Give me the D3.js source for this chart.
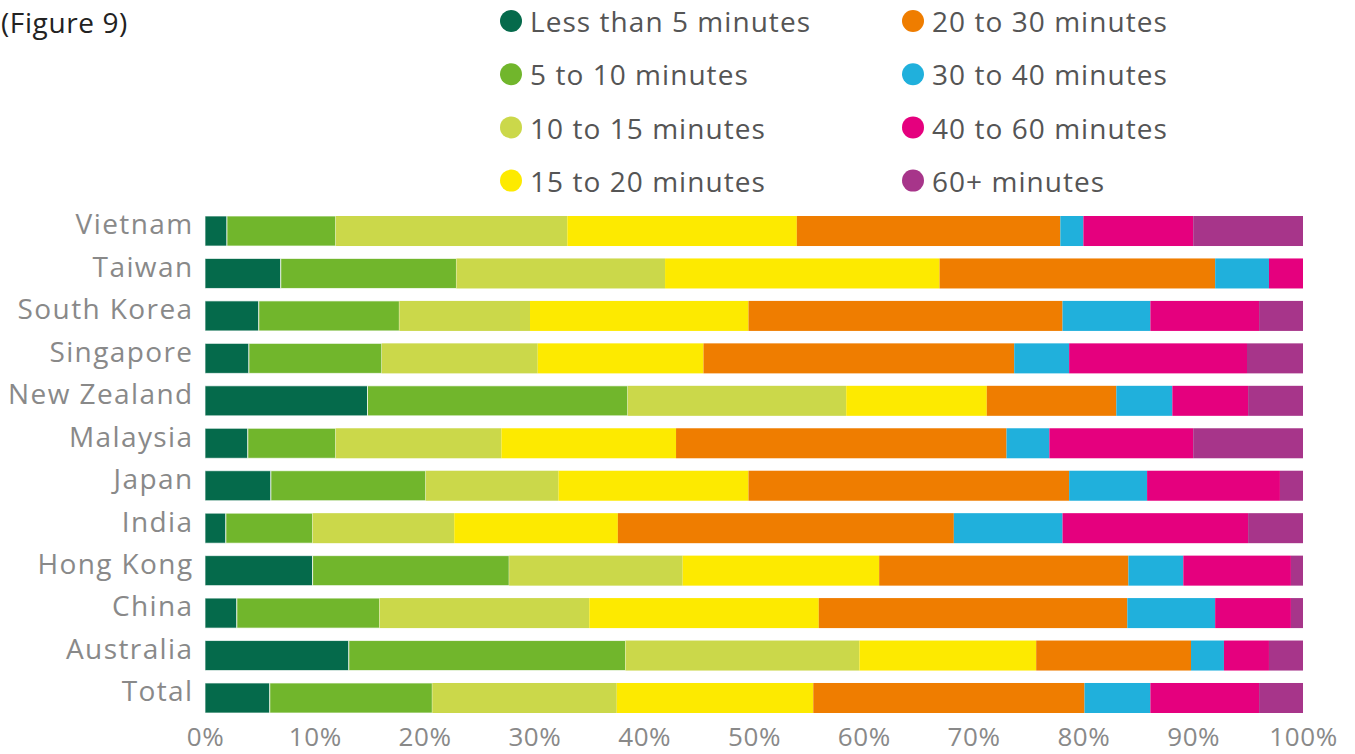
<!DOCTYPE html>
<html>
<head>
<meta charset="utf-8">
<script src="https://cdn.jsdelivr.net/npm/d3@7"></script>
<style>
  html, body { margin: 0; padding: 0; background: #fff; }
  svg { display: block; }
  text { font-family: "Open Sans", Lato, sans-serif; }
</style>
</head>
<body>
<svg id="chart" width="1355" height="754"></svg>
<script>
// Commute time shares by market (percent of respondents)
const countries = ["Vietnam", "Taiwan", "South Korea", "Singapore", "New Zealand",
  "Malaysia", "Japan", "India", "Hong Kong", "China", "Australia", "Total"];

const seriesNames = ["Less than 5 minutes", "5 to 10 minutes", "10 to 15 minutes",
  "15 to 20 minutes", "20 to 30 minutes", "30 to 40 minutes",
  "40 to 60 minutes", "60+ minutes"];

const seriesColors = ["#056a4b", "#71b62c", "#cbd84a", "#fdea00",
  "#ef7d00", "#20b0dc", "#e5007e", "#a7358a"];

// One array per band, in the order of countries
const lessThan5 = [2.0, 6.9, 4.9, 4.0, 14.8, 3.9, 6.0, 1.9, 9.8, 2.9, 13.1, 5.9];
const min5to10  = [9.9, 16.0, 12.8, 12.1, 23.7, 8.0, 14.1, 7.9, 17.9, 13.0, 25.2, 14.8];
const min10to15 = [21.1, 19.0, 11.9, 14.2, 19.9, 15.1, 12.1, 12.9, 15.8, 19.1, 21.3, 16.8];
const min15to20 = [20.9, 25.0, 19.9, 15.1, 12.8, 15.9, 17.3, 14.9, 17.9, 20.9, 16.1, 17.9];
const min20to30 = [24.0, 25.1, 28.6, 28.3, 11.8, 30.1, 29.2, 30.6, 22.7, 28.1, 14.1, 24.7];
const min30to40 = [2.1, 4.9, 8.0, 5.0, 5.1, 3.9, 7.1, 9.9, 5.0, 8.0, 3.0, 6.0];
const min40to60 = [10.0, 3.1, 9.9, 16.2, 6.9, 13.1, 12.1, 16.9, 9.8, 6.9, 4.1, 9.9];
const min60plus = [10.0, 0.0, 4.0, 5.1, 5.0, 10.0, 2.1, 5.0, 1.1, 1.1, 3.1, 4.0];

const tickValues = [0, 10, 20, 30, 40, 50, 60, 70, 80, 90, 100];

const seriesValues = [lessThan5, min5to10, min10to15, min15to20,
  min20to30, min30to40, min40to60, min60plus];

// Build rows for d3.stack
const rows = countries.map((c, i) => {
  const r = { country: c };
  seriesNames.forEach((s, k) => { r[s] = seriesValues[k][i]; });
  return r;
});

const svg = d3.select("#chart");

const x = d3.scaleLinear().domain([0, 100]).range([205, 1303]);
const y = d3.scaleBand().domain(countries).range([216, 713])
  .paddingInner(0.293).paddingOuter(0);
const color = d3.scaleOrdinal().domain(seriesNames).range(seriesColors);

const stacked = d3.stack().keys(seriesNames)(rows);

// Bars
const layers = svg.append("g").selectAll("g")
  .data(stacked)
  .join("g")
  .attr("fill", d => color(d.key));

layers.selectAll("rect")
  .data(d => d.map(v => ({ v, key: d.key, idx: d.index })))
  .join("rect")
  .attr("x", d => x(d.v[0]))
  .attr("y", d => y(d.v.data.country))
  .attr("width", d => Math.max(0, x(d.v[1]) - x(d.v[0])))
  .attr("height", y.bandwidth())
  .attr("stroke", d => d.idx < 2 ? "rgba(255,255,255,0.7)" : "none")
  .attr("stroke-width", 1);

// Category labels
const yAxis = d3.axisLeft(y).tickSize(0).tickPadding(11.5);
const gy = svg.append("g").attr("transform", "translate(205,0)").call(yAxis);
gy.select(".domain").remove();
gy.selectAll("text")
  .attr("fill", "#898989")
  .style("font-size", "28px")
  .style("letter-spacing", "1.4px")
  .attr("dy", "0.12em");

// Percent axis
const xAxis = d3.axisBottom(x).tickValues(tickValues)
  .tickFormat(d => d + "%").tickSize(0).tickPadding(0);
const gx = svg.append("g").attr("transform", "translate(0,746)").call(xAxis);
gx.select(".domain").remove();
gx.selectAll("text")
  .attr("fill", "#898989")
  .style("font-size", "26px")
  .style("letter-spacing", "0.6px")
  .attr("y", 0)
  .attr("dy", 0);

// Title
svg.append("text")
  .attr("x", 1).attr("y", 33)
  .attr("fill", "#222")
  .style("font-size", "28px")
  .style("letter-spacing", "0.6px")
  .text("(Figure 9)");

// Legend: two columns of four
const legend = svg.append("g").selectAll("g")
  .data(seriesNames)
  .join("g")
  .attr("transform", (d, i) => {
    const col = Math.floor(i / 4), row = i % 4;
    return `translate(${col === 0 ? 511 : 913},${21 + row * 53.2})`;
  });

legend.append("circle")
  .attr("r", 11)
  .attr("fill", d => color(d));

legend.append("text")
  .attr("x", 19)
  .attr("dy", "0.4em")
  .attr("fill", "#555")
  .style("font-size", "28px")
  .style("letter-spacing", "1.05px")
  .text(d => d);
</script>
</body>
</html>
